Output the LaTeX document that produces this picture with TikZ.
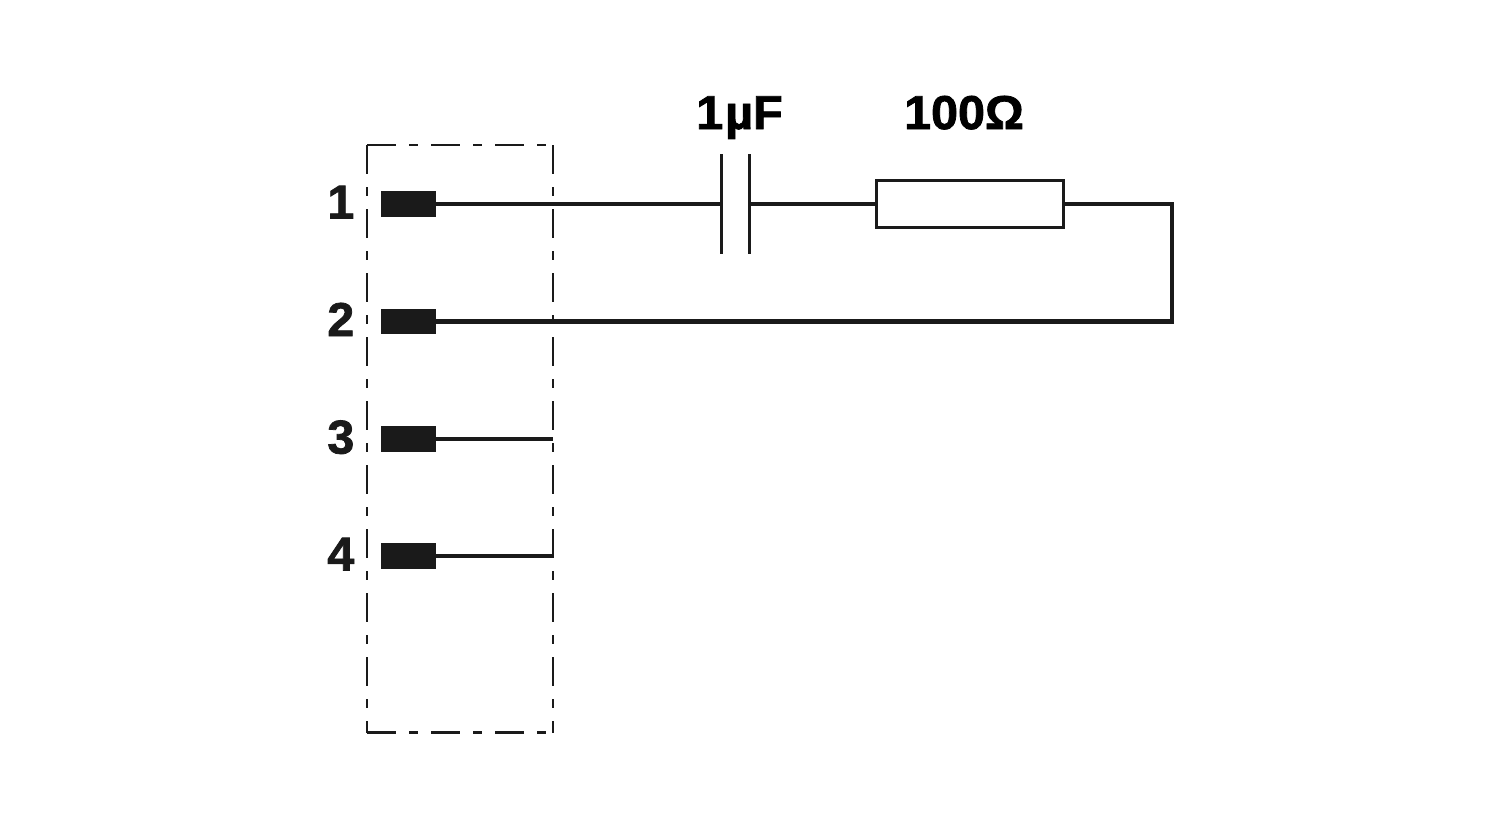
\documentclass[tikz,border=0pt]{standalone}
\usepackage{fontspec}
\setmainfont{Liberation Sans}
\newfontfamily\heavyfont{Liberation Sans Bold}[FakeBold=1.6,FakeStretch=1.02]
\definecolor{inkdark}{HTML}{1A1A1A}
\tikzset{
  wire/.style={draw=inkdark,line width=4.4pt},
  thinwire/.style={draw=inkdark,line width=3.6pt},
  housing/.style={draw=inkdark,line width=2.2pt,dash pattern={on 29pt off 13pt on 8.5pt off 13.5pt}},
  contact/.style={fill=inkdark,inner sep=0pt,minimum width=55pt,minimum height=25.5pt},
  plate/.style={fill=inkdark,inner sep=0pt,minimum width=3.4pt,minimum height=100pt},
  resistor/.style={draw=inkdark,fill=white,line width=3.2pt,inner sep=0pt,minimum width=187pt,minimum height=47pt},
  pinlabel/.style={text=inkdark,inner sep=0pt,anchor=base east,font=\heavyfont\fontsize{47.5}{50}\selectfont},
  valuelabel/.style={text=black,inner sep=0pt,anchor=base,font=\heavyfont\fontsize{47.5}{50}\selectfont}
}
\begin{document}
\begin{tikzpicture}[x=1pt,y=-1pt]
\useasboundingbox (0,0) rectangle (1500,820);

%Dashed housing
\coordinate (boxTL) at (367,145);
\coordinate (boxTR) at (553,145);
\coordinate (boxBL) at (367,732.5);
\coordinate (boxBR) at (553,732.5);
\draw [housing] (boxTL) -- (boxTR);
\draw [housing] (boxBL) -- (boxBR);
\draw [housing] (boxTL) -- (boxBL);
\draw [housing] (boxTR) -- (boxBR);

%Contacts
\node [contact] (pin1) at (408.8,203.8) {};
\node [contact] (pin2) at (408.8,321.5) {};
\node [contact] (pin3) at (408.8,438.8) {};
\node [contact] (pin4) at (408.8,556) {};

%Contact numbers
\node [pinlabel] (num1) at (354.5,218.5) {1};
\node [pinlabel] (num2) at (354.5,336) {2};
\node [pinlabel] (num3) at (354.5,453.5) {3};
\node [pinlabel] (num4) at (354.5,570.5) {4};

%Capacitor and resistor
\node [plate] (capL) at (721.3,203.8) {};
\node [plate] (capR) at (749.3,203.8) {};
\node [resistor] (res) at (970,203.8) {};
\node [valuelabel] (capval) at (739.5,129) {1\kern2ptµF};
\node [valuelabel] (resval) at (964,129) {100Ω};

%Free ends and bends
\coordinate (end3) at (553,438.8);
\coordinate (end4) at (553,556);
\coordinate (bendA) at (1172,203.8);
\coordinate (bendB) at (1172,321.5);

%Wires
\draw [wire] (pin1.center) -- (capL.center);
\draw [wire] (capR.center) -- (res.west);
\draw [wire] (res.east) -- (bendA) -- (bendB) -- (pin2.center);
\draw [thinwire] (pin3.center) -- (end3);
\draw [thinwire] (pin4.center) -- (end4);

\end{tikzpicture}
\end{document}
